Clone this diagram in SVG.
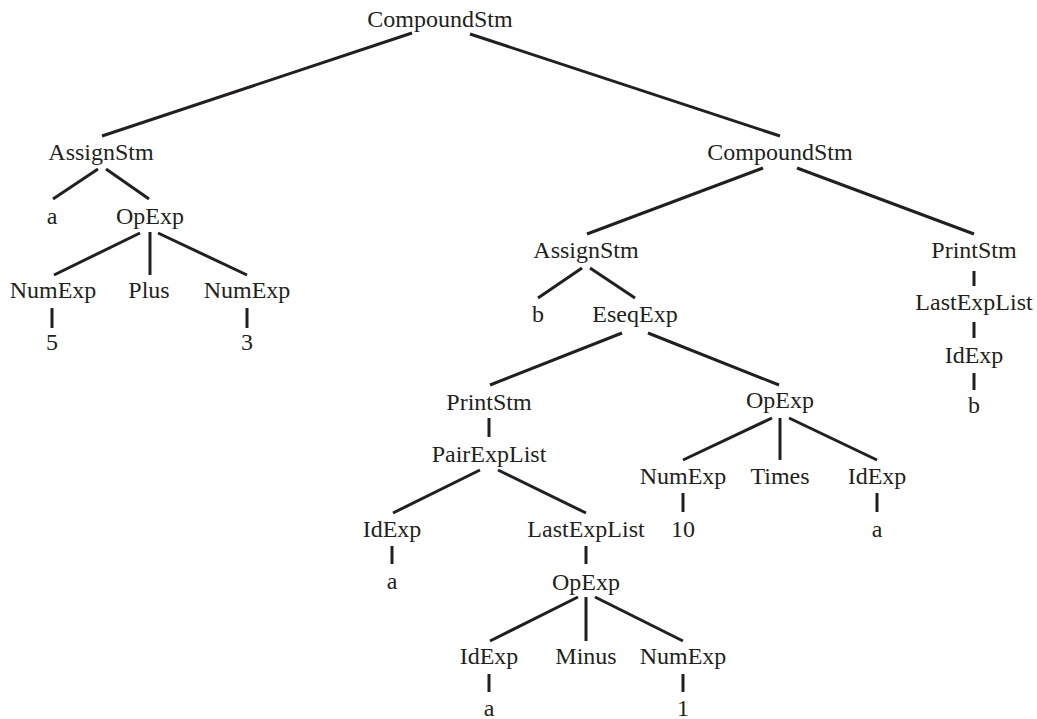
<svg xmlns="http://www.w3.org/2000/svg" width="1037" height="719" viewBox="0 0 1037 719">
<style>
text{font-family:"Liberation Serif","Times New Roman",serif;font-size:24px;fill:#231f20;text-anchor:middle}
#edges line{stroke:#231f20;stroke-width:3;stroke-linecap:butt}
</style>
<rect width="1037" height="719" fill="#fff"/>
<g id="edges">
<line x1="412" y1="33" x2="102" y2="136"/>
<line x1="470" y1="34" x2="780" y2="136"/>
<line x1="98" y1="169" x2="53" y2="199"/>
<line x1="106" y1="169" x2="149" y2="199"/>
<line x1="140" y1="233" x2="54" y2="275"/>
<line x1="150" y1="232" x2="150" y2="275"/>
<line x1="158" y1="233" x2="247" y2="275"/>
<line x1="52" y1="308" x2="52" y2="328"/>
<line x1="247" y1="308" x2="247" y2="328"/>
<line x1="763" y1="168" x2="587" y2="234"/>
<line x1="797" y1="168" x2="974" y2="234"/>
<line x1="582" y1="268" x2="538" y2="298"/>
<line x1="590" y1="268" x2="635" y2="298"/>
<line x1="622" y1="333" x2="490" y2="385"/>
<line x1="648" y1="333" x2="779" y2="385"/>
<line x1="489" y1="418" x2="489" y2="437"/>
<line x1="480" y1="470" x2="393" y2="513"/>
<line x1="498" y1="470" x2="586" y2="513"/>
<line x1="392" y1="546" x2="392" y2="564"/>
<line x1="586" y1="546" x2="586" y2="564"/>
<line x1="578" y1="597" x2="490" y2="641"/>
<line x1="586" y1="597" x2="586" y2="641"/>
<line x1="595" y1="597" x2="683" y2="641"/>
<line x1="489" y1="674" x2="489" y2="692"/>
<line x1="683" y1="674" x2="683" y2="692"/>
<line x1="772" y1="418" x2="683" y2="460"/>
<line x1="780" y1="418" x2="780" y2="460"/>
<line x1="789" y1="418" x2="877" y2="460"/>
<line x1="683" y1="493" x2="683" y2="512"/>
<line x1="877" y1="493" x2="877" y2="512"/>
<line x1="974" y1="271" x2="974" y2="286"/>
<line x1="974" y1="322" x2="974" y2="338"/>
<line x1="974" y1="373" x2="974" y2="390"/>
</g>
<g id="n1"><text x="440" y="27">CompoundStm</text></g>
<g id="n2"><text x="101" y="160">AssignStm</text></g>
<g id="n3"><text x="52" y="224">a</text></g>
<g id="n4"><text x="150" y="224">OpExp</text></g>
<g id="n5"><text x="53" y="298">NumExp</text></g>
<g id="n6"><text x="149" y="298">Plus</text></g>
<g id="n7"><text x="247" y="298">NumExp</text></g>
<g id="n8"><text x="52" y="350">5</text></g>
<g id="n9"><text x="247" y="350">3</text></g>
<g id="n10"><text x="780" y="160">CompoundStm</text></g>
<g id="n11"><text x="586" y="258">AssignStm</text></g>
<g id="n12"><text x="538" y="322">b</text></g>
<g id="n13"><text x="635" y="322">EseqExp</text></g>
<g id="n14"><text x="489" y="410">PrintStm</text></g>
<g id="n15"><text x="489" y="462">PairExpList</text></g>
<g id="n16"><text x="392" y="537">IdExp</text></g>
<g id="n17"><text x="392" y="589">a</text></g>
<g id="n18"><text x="586" y="537">LastExpList</text></g>
<g id="n19"><text x="586" y="590">OpExp</text></g>
<g id="n20"><text x="489" y="664">IdExp</text></g>
<g id="n21"><text x="586" y="664">Minus</text></g>
<g id="n22"><text x="683" y="664">NumExp</text></g>
<g id="n23"><text x="489" y="716">a</text></g>
<g id="n24"><text x="683" y="716">1</text></g>
<g id="n25"><text x="780" y="408">OpExp</text></g>
<g id="n26"><text x="683" y="484">NumExp</text></g>
<g id="n27"><text x="780" y="484">Times</text></g>
<g id="n28"><text x="877" y="484">IdExp</text></g>
<g id="n29"><text x="683" y="537">10</text></g>
<g id="n30"><text x="877" y="537">a</text></g>
<g id="n31"><text x="974" y="258">PrintStm</text></g>
<g id="n32"><text x="974" y="310">LastExpList</text></g>
<g id="n33"><text x="974" y="363">IdExp</text></g>
<g id="n34"><text x="974" y="413">b</text></g>
</svg>
